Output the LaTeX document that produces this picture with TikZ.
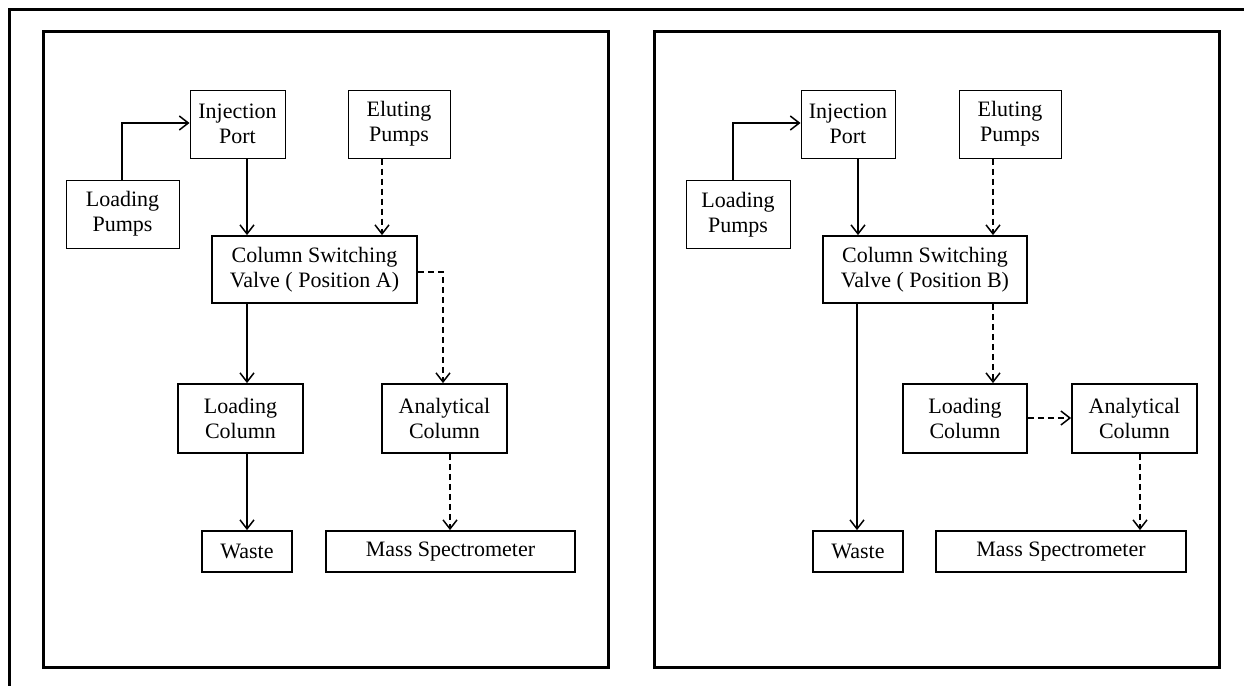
\documentclass[tikz,border=0pt]{standalone}
\usepackage{fontspec}
\setmainfont{Liberation Serif}
\usetikzlibrary{arrows.meta}
\begin{document}
\begin{tikzpicture}[x=1pt,y=-1pt,
  txt/.style={font=\fontsize{22}{25}\selectfont, align=center, inner sep=0pt},
  thinbox/.style={txt, draw, line width=1pt},
  box/.style={txt, draw, line width=1.8pt},
  panel/.style={draw, line width=3pt},
  flow/.style={line width=1.5pt, -{Straight Barb[length=9pt,width=14pt,line width=1.5pt]}},
  dflow/.style={flow, dash pattern=on 6pt off 4pt}
]
\useasboundingbox (0,0) rectangle (1244,685);
% outer frame (only top and left edges visible)
\draw[line width=3pt] (9,690) -- (9,9.5) -- (1250,9.5);
% panels
\node[panel, minimum width=565pt, minimum height=635pt, inner sep=0pt] (pa) at (325.5,349.5) {};
\node[panel, minimum width=565pt, minimum height=635pt, inner sep=0pt] (pb) at (936.5,349.5) {};

% ---------- Left panel (Position A) ----------
\node[thinbox, minimum width=95pt, minimum height=68pt] (injA) at (237.5,124) {Injection\\Port};
\node[thinbox, minimum width=102pt, minimum height=68pt] (eluA) at (399,124) {Eluting\\Pumps};
\node[thinbox, minimum width=113pt, minimum height=68pt] (lpA) at (122.5,214) {Loading\\Pumps};
\node[box, minimum width=205pt, minimum height=67pt] (csvA) at (314.5,269.5) {Column Switching\\Valve ( Position A)};
\node[box, minimum width=125pt, minimum height=69pt] (lcA) at (240.5,418.5) {Loading\\Column};
\node[box, minimum width=125pt, minimum height=69pt] (acA) at (444.5,418.5) {Analytical\\Column};
\node[box, minimum width=90pt, minimum height=41pt] (wA) at (247,551.5) {Waste};
\node[box, minimum width=249pt, minimum height=41pt] (msA) at (450.5,551.5) {Mass Spectrometer};

\draw[flow] (lpA.north -| 122,0) |- (injA.west |- 0,123);
\draw[flow] (injA.south -| 247,0) -- (csvA.north -| 247,0);
\draw[dflow] (eluA.south -| 382,0) -- (csvA.north -| 382,0);
\draw[dflow] (csvA.east |- 0,272) -| (acA.north -| 443,0);
\draw[flow] (csvA.south -| 247,0) -- (lcA.north -| 247,0);
\draw[flow] (lcA.south -| 247,0) -- (wA.north -| 247,0);
\draw[dflow] (acA.south -| 450,0) -- (msA.north -| 450,0);

% ---------- Right panel (Position B) ----------
\node[thinbox, minimum width=94pt, minimum height=68pt] (injB) at (848,124) {Injection\\Port};
\node[thinbox, minimum width=102pt, minimum height=68pt] (eluB) at (1010,124) {Eluting\\Pumps};
\node[thinbox, minimum width=104pt, minimum height=68pt] (lpB) at (738,214.5) {Loading\\Pumps};
\node[box, minimum width=204pt, minimum height=67pt] (csvB) at (925,269.5) {Column Switching\\Valve ( Position B)};
\node[box, minimum width=124pt, minimum height=69pt] (lcB) at (965,418.5) {Loading\\Column};
\node[box, minimum width=125pt, minimum height=69pt] (acB) at (1134.5,418.5) {Analytical\\Column};
\node[box, minimum width=90pt, minimum height=41pt] (wB) at (858,551.5) {Waste};
\node[box, minimum width=250pt, minimum height=41pt] (msB) at (1061,551.5) {Mass Spectrometer};

\draw[flow] (lpB.north -| 733,0) |- (injB.west |- 0,123);
\draw[flow] (injB.south -| 858,0) -- (csvB.north -| 858,0);
\draw[dflow] (eluB.south -| 993,0) -- (csvB.north -| 993,0);
\draw[flow] (csvB.south -| 857,0) -- (wB.north -| 857,0);
\draw[dflow] (csvB.south -| 993,0) -- (lcB.north -| 993,0);
\draw[dflow] (lcB.east |- 0,418) -- (acB.west |- 0,418);
\draw[dflow] (acB.south -| 1140,0) -- (msB.north -| 1140,0);
\end{tikzpicture}
\end{document}
